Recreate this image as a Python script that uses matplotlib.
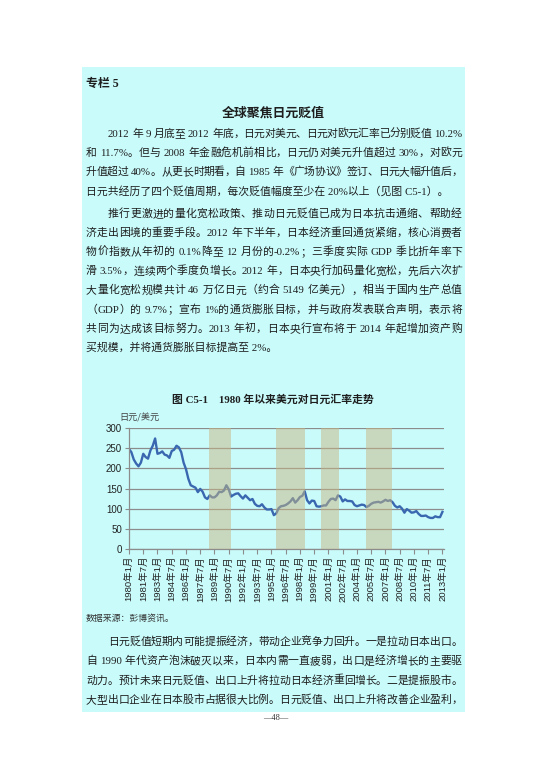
import re
import numpy as np
import matplotlib
matplotlib.use("Agg")
import matplotlib.pyplot as plt
from matplotlib.patches import Rectangle

# --- DATA: USD/JPY, quarterly (Jan/Apr/Jul/Oct), 1980-01 .. 2013-01 ---
usd_jpy = [
    248, 240, 222, 212,   # 1980
    205, 214, 236, 228,   # 1981
    224, 244, 256, 274,   # 1982
    236, 238, 242, 234,   # 1983
    232, 226, 243, 246,   # 1984
    256, 252, 240, 214,   # 1985
    198, 174, 158, 155,   # 1986
    152, 141, 149, 142,   # 1987
    128, 124, 133, 128,   # 1988
    128, 133, 142, 141,   # 1989
    145, 158, 148, 130,   # 1990
    134, 137, 138, 131,   # 1991
    125, 133, 127, 121,   # 1992
    124, 112, 107, 106,   # 1993
    111, 103, 98, 98,     # 1994
    99, 84, 88, 101,      # 1995
    106, 107, 109, 113,   # 1996
    118, 126, 115, 121,   # 1997
    129, 132, 143, 121,   # 1998
    113, 120, 119, 106,   # 1999
    105, 106, 108, 108,   # 2000
    117, 124, 125, 121,   # 2001
    133, 130, 118, 123,   # 2002
    119, 119, 118, 109,   # 2003
    106, 108, 110, 109,   # 2004
    104, 107, 112, 115,   # 2005
    116, 117, 115, 118,   # 2006
    122, 119, 121, 116,   # 2007
    107, 103, 106, 100,   # 2008
    90, 99, 95, 90,       # 2009
    91, 94, 87, 82,       # 2010
    82, 83, 79, 77,       # 2011
    77, 81, 79, 79,       # 2012
    92,                   # 2013-01
]
months = np.arange(0, 3 * len(usd_jpy), 3)   # months since 1980-01

# yen depreciation cycles (month index since 1980-01)
shade_start = [101, 186, 242, 300]
shade_end = [129, 222, 265, 332]

tick_months = list(range(0, 397, 18))
tick_labels = [f"{1980 + m // 12}年{m % 12 + 1}月" for m in tick_months]
y_ticks = [0, 50, 100, 150, 200, 250, 300]

para1 = [
    "2012 年 9 月底至 2012 年底，日元对美元、日元对欧元汇率已分别贬值 10.2%",
    "和 11.7%。但与 2008 年金融危机前相比，日元仍对美元升值超过 30%，对欧元",
    "升值超过 40%。从更长时期看，自 1985 年《广场协议》签订、日元大幅升值后，",
    "日元共经历了四个贬值周期，每次贬值幅度至少在 20%以上（见图 C5-1）。",
]
para2 = [
    "推行更激进的量化宽松政策、推动日元贬值已成为日本抗击通缩、帮助经",
    "济走出困境的重要手段。2012 年下半年，日本经济重回通货紧缩，核心消费者",
    "物价指数从年初的 0.1%降至 12 月份的-0.2%；三季度实际 GDP 季比折年率下",
    "滑 3.5%，连续两个季度负增长。2012 年，日本央行加码量化宽松，先后六次扩",
    "大量化宽松规模共计 46 万亿日元（约合 5149 亿美元），相当于国内生产总值",
    "（GDP）的 9.7%；宣布 1%的通货膨胀目标，并与政府发表联合声明，表示将",
    "共同为达成该目标努力。2013 年初，日本央行宣布将于 2014 年起增加资产购",
    "买规模，并将通货膨胀目标提高至 2%。",
]
para3 = [
    "日元贬值短期内可能提振经济，带动企业竞争力回升。一是拉动日本出口。",
    "自 1990 年代资产泡沫破灭以来，日本内需一直疲弱，出口是经济增长的主要驱",
    "动力。预计未来日元贬值、出口上升将拉动日本经济重回增长。二是提振股市。",
    "大型出口企业在日本股市占据很大比例。日元贬值、出口上升将改善企业盈利，",
]

# --- PAGE ---
W, H = 553, 782
fig = plt.figure(figsize=(W / 100, H / 100), dpi=100)
fig.patch.set_facecolor("white")
renderer = fig.canvas.get_renderer()

BG = "#c9fbfb"
SERIF = ["Liberation Serif", "Noto Sans CJK SC"]
SANS = ["Noto Sans CJK SC", "DejaVu Sans"]
INK = "#1e1e1e"


def fx(x):
    return x / W


def fy(y):
    return 1 - y / H


fig.patches.append(Rectangle((fx(82), fy(712)), (465 - 82) / W, (712 - 67) / H,
                             transform=fig.transFigure, facecolor=BG,
                             edgecolor="none", zorder=-5))


def put_line(text, x0, y, x1=None, size=7.8):
    """Write one body line; if x1 is given the line is justified to it."""
    if x1 is None:
        fig.text(fx(x0), fy(y), text, fontsize=size, family=SERIF,
                 color=INK, va="baseline", ha="left")
        return
    tokens = re.findall(r"[A-Za-z0-9.%\-]+| |.", text)
    sp = size * 100 / 72 * 0.28
    items = []
    for tok in tokens:
        if tok == " ":
            items.append(None)
            continue
        t = fig.text(0, fy(y), tok, fontsize=size, family=SERIF,
                     color=INK, va="baseline", ha="left")
        items.append((t, t.get_window_extent(renderer).width))
    real = [it for it in items if it is not None]
    total = sum(w for _, w in real) + sp * items.count(None)
    gap = (x1 - x0 - total) / (len(real) - 1)
    x = x0
    for it in items:
        if it is None:
            x += sp
            continue
        t, w = it
        t.set_x(fx(x))
        x += w + gap


def put_para(lines, y0, step=19.1):
    for i, line in enumerate(lines):
        x0 = 108 if i == 0 else 86
        last = i == len(lines) - 1 and len(lines) > 4
        put_line(line, x0, y0 + i * step + 4, None if (last or line.endswith("）。")) else 462)


fig.text(fx(86), fy(84), "专栏 5", fontsize=8.6, family=SERIF, weight="bold",
         color=INK, va="center", ha="left")
fig.text(fx(273), fy(113), "全球聚焦日元贬值", fontsize=9.3, family=SANS,
         weight="bold", color=INK, va="center", ha="center")

put_para(para1, 133)
put_para(para2, 213)
put_para(para3, 641, step=19.3)

fig.text(fx(273), fy(400), "图 C5-1　1980 年以来美元对日元汇率走势", fontsize=7.8,
         family=SERIF, weight="bold", color=INK, va="center", ha="center")
fig.text(fx(86), fy(618), "数据来源：彭博资讯。", fontsize=6.4, family=SERIF,
         color="#333333", va="center", ha="left")
fig.text(fx(276), fy(718), "—48—", fontsize=6, family=SERIF,
         color="#333333", va="center", ha="center")

# --- CHART ---
ax = fig.add_axes([fx(129), fy(549), (444 - 129) / W, (549 - 428) / H])
ax.set_facecolor("none")
ax.set_zorder(2)
ax.plot(months, usd_jpy, color="#3a68b0", lw=1.7, zorder=2)
for s, e in zip(shade_start, shade_end):
    ax.axvspan(s, e, color="#c8b682", alpha=0.5, lw=0, zorder=3)

ax.set_xlim(0, 398)
ax.set_ylim(0, 300)
ax.set_yticks(y_ticks)
ax.set_yticklabels([str(v) for v in y_ticks], fontsize=7,
                   family=["Liberation Sans"], color="#222222")
ax.set_xticks(tick_months)
ax.set_xticklabels(tick_labels, rotation=90, fontsize=6.8,
                   family=["Liberation Sans", "Noto Sans CJK SC"], color="#222222")
ax.grid(axis="y", color="#8c8c8c", lw=0.9, zorder=1)
ax.set_axisbelow(True)
for side in ("top", "right"):
    ax.spines[side].set_visible(False)
for side in ("left", "bottom"):
    ax.spines[side].set_color("#8c8c8c")
    ax.spines[side].set_linewidth(0.9)
ax.tick_params(axis="y", length=3, width=0.8, color="#8c8c8c", pad=2)
ax.tick_params(axis="x", length=3.5, width=0.8, color="#8c8c8c", pad=1.5)

fig.text(fx(119), fy(418), "日元/美元", fontsize=6.6, family=SANS,
         color="#444444", va="center", ha="left")

fig.savefig("out.png", dpi=100, facecolor="white")
